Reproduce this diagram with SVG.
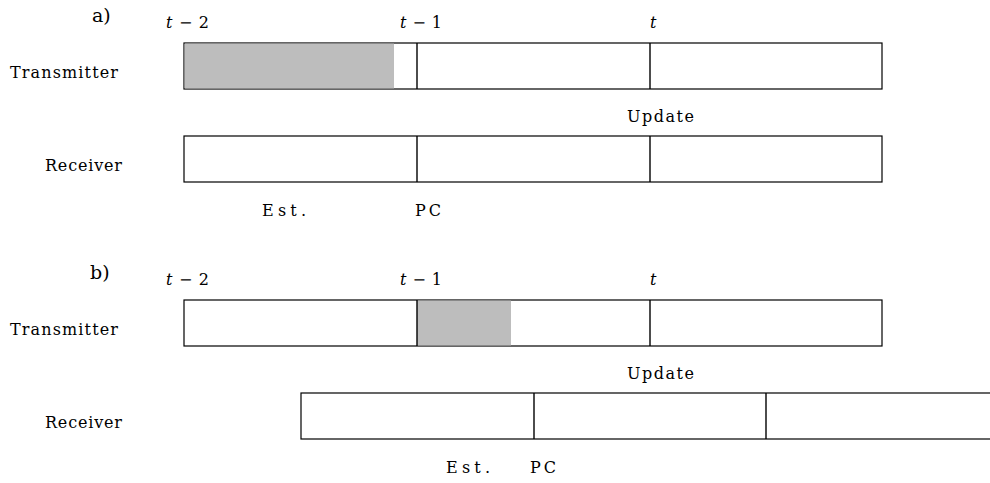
<svg xmlns="http://www.w3.org/2000/svg" width="990" height="483" viewBox="0 0 990 483">
<style>
.box{fill:#fff;stroke:#000;stroke-width:1.2}
.div{stroke:#000;stroke-width:1.4}
.shade{fill:#bdbdbd;stroke:none}
text{font-family:"DejaVu Serif","Liberation Serif",serif;fill:#000}
.lbl{font-size:16px}
.time{font-size:16px}
.part{font-size:19px}
.it{font-style:italic}
</style>
<rect width="990" height="483" fill="#fff"/>
<g id="panel-a">
  <text class="part" x="92" y="22">a)</text>
  <text class="time" x="166" y="28" textLength="43" lengthAdjust="spacing"><tspan class="it">t</tspan> − 2</text>
  <text class="time" x="400" y="28" textLength="42" lengthAdjust="spacing"><tspan class="it">t</tspan> − 1</text>
  <text class="time" x="650" y="28"><tspan class="it">t</tspan></text>
  <g id="a-transmitter">
    <text class="lbl" x="10" y="78" textLength="108" lengthAdjust="spacing">Transmitter</text>
    <rect class="box" x="184" y="43" width="698" height="46"/>
    <rect class="shade" x="184.6" y="43.6" width="209.4" height="44.8"/>
    <line class="div" x1="417" y1="43" x2="417" y2="89"/>
    <line class="div" x1="650" y1="43" x2="650" y2="89"/>
  </g>
  <text class="lbl" x="627" y="122" textLength="67" lengthAdjust="spacing">Update</text>
  <g id="a-receiver">
    <text class="lbl" x="45" y="171" textLength="77" lengthAdjust="spacing">Receiver</text>
    <rect class="box" x="184" y="136" width="698" height="46"/>
    <line class="div" x1="417" y1="136" x2="417" y2="182"/>
    <line class="div" x1="650" y1="136" x2="650" y2="182"/>
  </g>
  <text class="lbl" x="262" y="216" textLength="44" lengthAdjust="spacing">Est.</text>
  <text class="lbl" x="415" y="216" textLength="26" lengthAdjust="spacing">PC</text>
</g>
<g id="panel-b">
  <text class="part" x="90" y="279">b)</text>
  <text class="time" x="166" y="285" textLength="43" lengthAdjust="spacing"><tspan class="it">t</tspan> − 2</text>
  <text class="time" x="400" y="285" textLength="42" lengthAdjust="spacing"><tspan class="it">t</tspan> − 1</text>
  <text class="time" x="650" y="285"><tspan class="it">t</tspan></text>
  <g id="b-transmitter">
    <text class="lbl" x="10" y="335" textLength="108" lengthAdjust="spacing">Transmitter</text>
    <rect class="box" x="184" y="300" width="698" height="46"/>
    <rect class="shade" x="417" y="300.6" width="94" height="44.8"/>
    <line class="div" x1="417" y1="300" x2="417" y2="346"/>
    <line class="div" x1="650" y1="300" x2="650" y2="346"/>
  </g>
  <text class="lbl" x="627" y="379" textLength="67" lengthAdjust="spacing">Update</text>
  <g id="b-receiver">
    <text class="lbl" x="45" y="428" textLength="77" lengthAdjust="spacing">Receiver</text>
    <rect class="box" x="301" y="393" width="700" height="46"/>
    <line class="div" x1="534" y1="393" x2="534" y2="439"/>
    <line class="div" x1="766" y1="393" x2="766" y2="439"/>
  </g>
  <text class="lbl" x="446" y="473" textLength="44" lengthAdjust="spacing">Est.</text>
  <text class="lbl" x="530" y="473" textLength="26" lengthAdjust="spacing">PC</text>
</g>
</svg>
